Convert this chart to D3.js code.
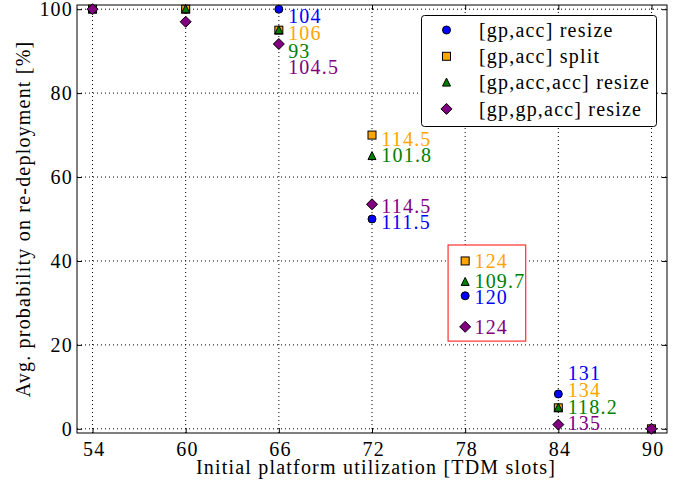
<!DOCTYPE html>
<html><head><meta charset="utf-8">
<script src="https://cdn.jsdelivr.net/npm/d3@7"></script>
<style>body{margin:0;background:#fff}svg{display:block}svg text{font-family:'Liberation Serif',serif !important;letter-spacing:1.2px;}</style>
</head><body>
<script>
const xValues = [54, 60, 66, 72, 78, 84, 90];
const seriesNames = ["[gp,acc] resize", "[gp,acc] split", "[gp,acc,acc] resize", "[gp,gp,acc] resize"];
const seriesColors = ["#0000ff", "#ffa500", "#008000", "#800080"];
const seriesShapes = ["circle", "square", "triangle", "diamond"];
const gpAccResize    = [100, 100, 100, 50, 31.7, 8.3, 0];
const gpAccSplit     = [100, 100, 95, 70, 40, 5, 0];
const gpAccAccResize = [100, 100, 95, 65, 35, 5, 0];
const gpGpAccResize  = [100, 97, 91.7, 53.5, 24.3, 1, 0];
const seriesValues = [gpAccResize, gpAccSplit, gpAccAccResize, gpGpAccResize];
const xTicks = [54, 60, 66, 72, 78, 84, 90];
const yTicks = [0, 20, 40, 60, 80, 100];
// annotations: [x, y, text, seriesIndex]
const annotations = [
  [66.6, 98.4, "104", 0], [66.6, 94.3, "106", 1], [66.6, 90.0, "93", 2], [66.6, 86.2, "104.5", 3],
  [72.6, 69.0, "114.5", 1], [72.6, 65.2, "101.8", 2], [72.6, 53.1, "114.5", 3], [72.6, 49.2, "111.5", 0],
  [78.6, 40.0, "124", 1], [78.6, 35.2, "109.7", 2], [78.6, 31.3, "120", 0], [78.6, 24.1, "124", 3],
  [84.6, 13.3, "131", 0], [84.6, 9.1, "134", 1], [84.6, 5.2, "118.2", 2], [84.6, 1.2, "135", 3]
];
const highlightBox = [76.9, 81.9, 43.8, 20.9];

const FONT = "'Liberation Serif',serif";
const FS = "20px";
const W = 683, H = 483;
const m = {l: 77, r: 16, t: 5, b: 50};
const svg = d3.select("body").append("svg").attr("width", W).attr("height", H)
  .style("font-family", FONT);
const x = d3.scaleLinear().domain([53, 91]).range([m.l, W - m.r]);
const y = d3.scaleLinear().domain([-1, 101]).range([H - m.b, m.t]);
const x0 = x.range()[0], x1 = x.range()[1], y0 = y.range()[0], y1 = y.range()[1];

// grid
const g = svg.append("g");
g.selectAll(".gx").data(xTicks).join("line")
  .attr("x1", d => x(d)).attr("x2", d => x(d)).attr("y1", y0).attr("y2", y1)
  .attr("stroke", "#000").attr("stroke-width", 1).attr("stroke-dasharray", "1,3");
g.selectAll(".gy").data(yTicks).join("line")
  .attr("y1", d => y(d)).attr("y2", d => y(d)).attr("x1", x0).attr("x2", x1)
  .attr("stroke", "#000").attr("stroke-width", 1).attr("stroke-dasharray", "1,3");

// axes with inward ticks
const axB = svg.append("g").attr("transform", `translate(0,${y0})`)
  .call(d3.axisBottom(x).tickValues(xTicks).tickSize(-5).tickPadding(9).tickFormat(d3.format("d")));
const axT = svg.append("g").attr("transform", `translate(0,${y1})`)
  .call(d3.axisTop(x).tickValues(xTicks).tickSize(-5).tickFormat(""));
const axL = svg.append("g").attr("transform", `translate(${x0},0)`)
  .call(d3.axisLeft(y).tickValues(yTicks).tickSize(-5).tickPadding(4));
const axR = svg.append("g").attr("transform", `translate(${x1},0)`)
  .call(d3.axisRight(y).tickValues(yTicks).tickSize(-5).tickFormat(""));
[axB, axT, axL, axR].forEach(a => {
  a.attr("font-family", null).attr("font-size", null);
  a.select(".domain").remove();
  a.selectAll("text").attr("fill", "#000").style("font-family", FONT).style("font-size", FS);
  a.selectAll("line").attr("stroke", "#000");
});
axB.selectAll("text").attr("dy", "0.71em").attr("dx", "0.06em");
axL.selectAll("text").attr("dy", "0.33em");
svg.append("rect").attr("x", x0).attr("y", y1).attr("width", x1 - x0).attr("height", y0 - y1)
  .attr("fill", "none").attr("stroke", "#000").attr("stroke-width", 1);

// highlight box (white fill hides grid beneath)
svg.append("rect").attr("x", x(highlightBox[0])).attr("y", y(highlightBox[2]))
  .attr("width", x(highlightBox[1]) - x(highlightBox[0])).attr("height", y(highlightBox[3]) - y(highlightBox[2]))
  .attr("fill", "#fff").attr("stroke", "#ff3030").attr("stroke-width", 1.2);

function marker(sel, shape, color) {
  if (shape === "circle") sel.append("circle").attr("r", 4);
  else if (shape === "square") sel.append("rect").attr("x", -4).attr("y", -4).attr("width", 8).attr("height", 8);
  else if (shape === "triangle") sel.append("path").attr("d", "M0,-4.5L4,3.5L-4,3.5Z");
  else sel.append("path").attr("d", "M0,-5.5L5.5,0L0,5.5L-5.5,0Z");
  sel.select("*").attr("fill", color).attr("stroke", "#000").attr("stroke-width", 1);
}

// points (draw in series order)
seriesValues.forEach((vals, si) => {
  vals.forEach((v, i) => {
    const gg = svg.append("g").attr("transform", `translate(${x(xValues[i])},${y(v)})`);
    marker(gg, seriesShapes[si], seriesColors[si]);
  });
});

// annotations
svg.selectAll(".ann").data(annotations).join("text")
  .attr("x", d => x(d[0])).attr("y", d => y(d[1])).attr("dy", "0.33em")
  .attr("fill", d => seriesColors[d[3]]).style("font-size", FS).text(d => d[2]);

// legend
const lg = svg.append("g");
lg.append("rect").attr("x", 421.5).attr("y", 15.5).attr("width", 235).attr("height", 111).attr("rx", 3)
  .attr("fill", "#fff").attr("stroke", "#000").attr("stroke-width", 1);
seriesNames.forEach((n, i) => {
  const yy = 30 + i * 26.3;
  const mg = lg.append("g").attr("transform", `translate(446.5,${yy})`);
  marker(mg, seriesShapes[i], seriesColors[i]);
  lg.append("text").attr("x", 479).attr("y", yy).attr("dy", "0.33em").style("font-size", FS).text(n);
});

// axis labels
svg.append("text").attr("x", (x0 + x1) / 2 + 4).attr("y", 474).attr("text-anchor", "middle")
  .style("font-size", FS).text("Initial platform utilization [TDM slots]");
svg.append("text").attr("transform", `translate(30,${(y0 + y1) / 2}) rotate(-90)`).attr("text-anchor", "middle")
  .style("font-size", FS).text("Avg. probability on re-deployment [%]");
</script>
</body></html>
